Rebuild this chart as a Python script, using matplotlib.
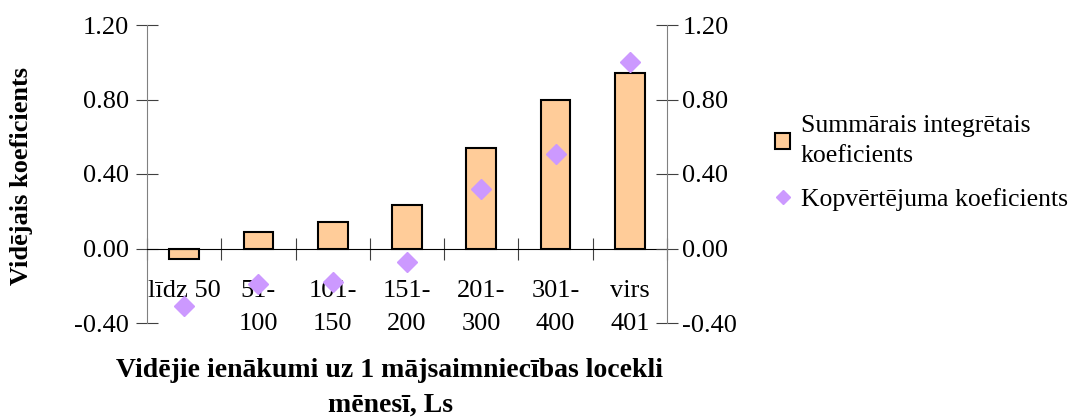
import matplotlib

matplotlib.use("Agg")
import matplotlib.pyplot as plt
from matplotlib.patches import Patch
from matplotlib.lines import Line2D
import numpy as np

# dati no attēla
categories = ["līdz 50", "51-\n100", "101-\n150", "151-\n200", "201-\n300", "301-\n400", "virs\n401"]
summarais = [-0.055, 0.087, 0.143, 0.233, 0.538, 0.797, 0.94]
kopvertejuma = [-0.31, -0.19, -0.18, -0.07, 0.32, 0.51, 1.00]
yticks = [-0.40, 0.00, 0.40, 0.80, 1.20]

plt.rcParams["font.family"] = ["Liberation Serif", "DejaVu Serif"]

BAR_C = "#FFCC99"
DIA_C = "#CC99FF"
FS = 19

fig = plt.figure(figsize=(10.74, 4.17), dpi=100)
ax = fig.add_axes([147 / 1074, 1 - 323 / 417, (667 - 147) / 1074, (323 - 25) / 417])

x = np.arange(len(categories))
ax.bar(x, summarais, width=0.4, color=BAR_C, edgecolor="black", linewidth=1.5, zorder=2)
ax.plot(x, kopvertejuma, linestyle="none", marker="D", ms=10.5, color=DIA_C, zorder=3)

ax.set_xlim(-0.5, len(categories) - 0.5)
ax.set_ylim(-0.4, 1.2)
ax.set_yticks(yticks)
ax.set_yticklabels([f"{v:.2f}" for v in yticks], fontsize=FS)

# x ass uz nulles līnijas, iedaļas starp kategorijām
ax.spines["bottom"].set_position(("data", 0))
ax.spines["bottom"].set_color("black")
ax.spines["top"].set_visible(False)
ax.spines["right"].set_visible(False)
ax.spines["left"].set_color("#808080")
ax.set_xticks(np.arange(len(categories) + 1) - 0.5)
ax.set_xticklabels([])
ax.set_xticks(x, minor=True)
ax.set_xticklabels(categories, minor=True, fontsize=FS, linespacing=1.6, va="top")
ax.tick_params(axis="x", which="major", direction="inout", length=16, color="#404040")
ax.tick_params(axis="x", which="minor", length=0, pad=23)
ax.tick_params(axis="y", direction="inout", length=16, color="#404040", pad=5)

ax2 = ax.twinx()
ax2.set_ylim(ax.get_ylim())
ax2.set_yticks(yticks)
ax2.set_yticklabels([f"{v:.2f}" for v in yticks], fontsize=FS)
for s in ["top", "bottom", "left"]:
    ax2.spines[s].set_visible(False)
ax2.spines["right"].set_color("#808080")
ax2.tick_params(axis="y", direction="inout", length=16, color="#404040", pad=3)

fig.text(22 / 1074, 1 - 176 / 417, "Vidējais koeficients", rotation=90,
         ha="center", va="center", fontsize=19, fontweight="bold")

fig.text(390 / 1074, 1 - 388 / 417,
         "Vidējie ienākumi uz 1 mājsaimniecības locekli\nmēnesī, Ls",
         ha="center", va="center", fontsize=20, fontweight="bold", linespacing=1.5)

handles = [Patch(facecolor=BAR_C, edgecolor="black", linewidth=1.5),
           Line2D([], [], linestyle="none", marker="D", ms=7, color=DIA_C)]
leg = fig.legend(handles, ["Summārais integrētais\nkoeficients", "Kopvērtējuma koeficients"],
                 loc="upper left", bbox_to_anchor=(775 / 1074, 1 - 115 / 417), frameon=False,
                 fontsize=18.5, handlelength=0.6, handleheight=0.6, handletextpad=0.4,
                 labelspacing=0.8, borderaxespad=0, borderpad=0)
leg.get_texts()[0].set_linespacing(1.5)

fig.savefig("out.png", dpi=100)
plt.close(fig)
